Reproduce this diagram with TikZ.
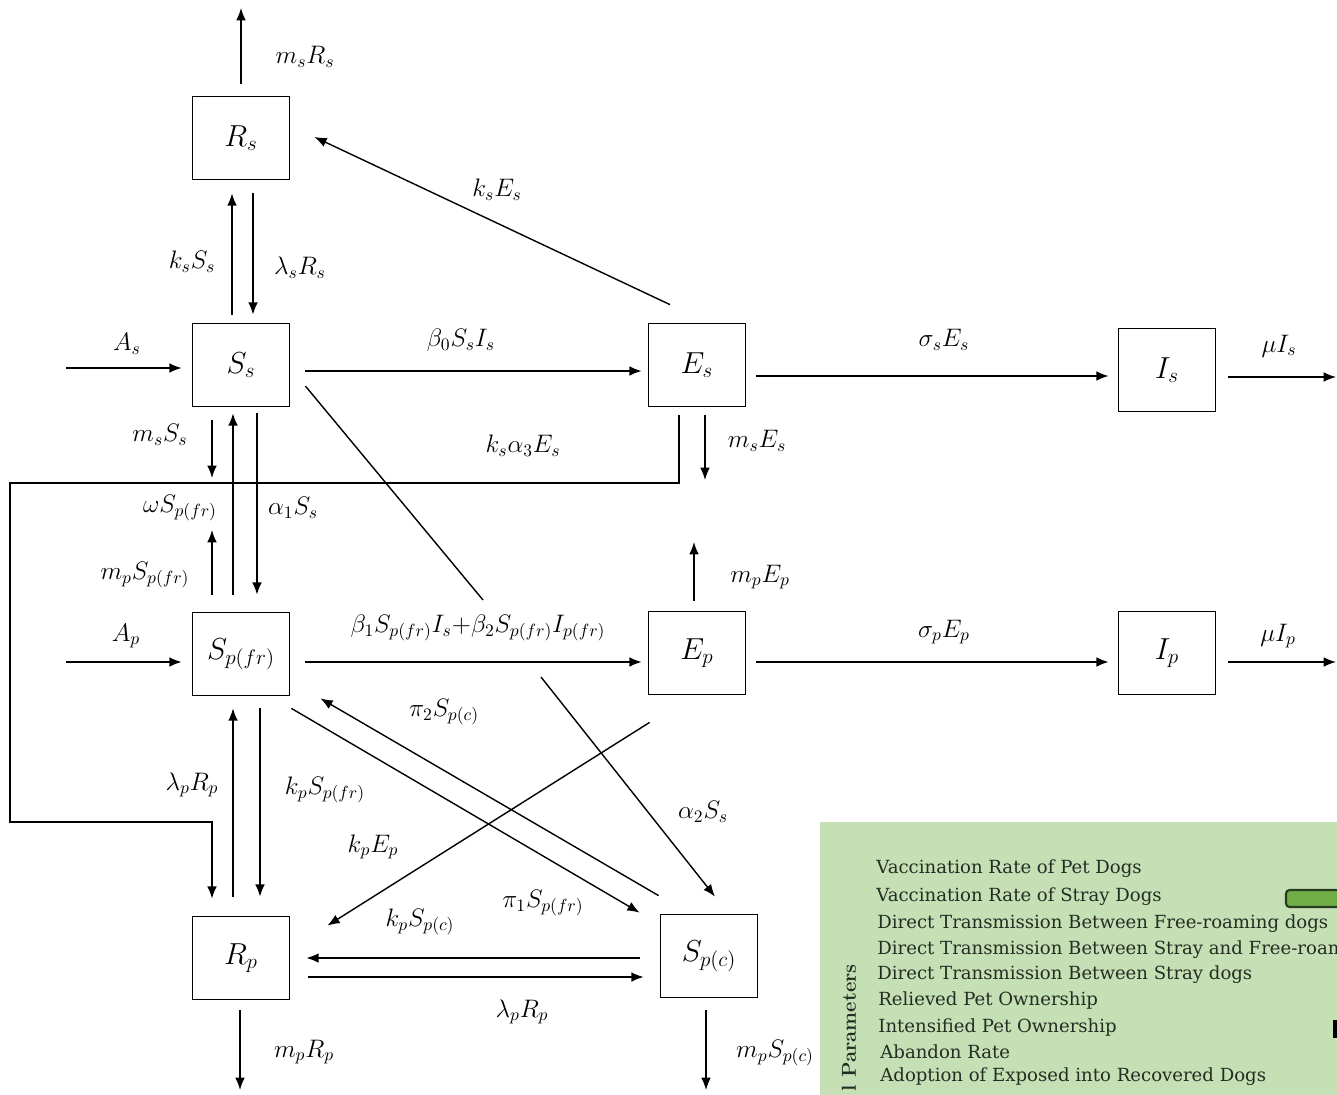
\documentclass[tikz,border=0pt]{standalone}
\usepackage{fontspec}
\newfontfamily\legfont{DejaVu Serif}
\usetikzlibrary{arrows.meta,calc}
\definecolor{legbg}{RGB}{198,224,181}
\definecolor{legtxt}{RGB}{35,45,35}
\definecolor{barfill}{RGB}{112,173,71}
\definecolor{barline}{RGB}{40,60,30}
\begin{document}
\begin{tikzpicture}[x=0.02cm,y=-0.02cm,
  box/.style={draw,line width=1pt,minimum width=1.94cm,minimum height=1.66cm,inner sep=0pt,font=\fontsize{18}{21}\selectfont},
  arr/.style={-{Latex[length=7pt,width=5.5pt]},line width=0.8pt},
  plain/.style={line width=0.8pt},
  lbl/.style={font=\fontsize{14.5}{16}\selectfont,inner sep=1pt},
  legtext/.style={font=\legfont\fontsize{10.3}{12}\selectfont,text=legtxt,anchor=west,inner sep=0pt}]
\useasboundingbox (0,0) rectangle (1337,1094);
% legend panel (drawn first, behind)
\fill[legbg] (820,822) rectangle (1340,1100);
\draw[barline,line width=1.2pt,fill=barfill,rounded corners=2pt] (1286,890) rectangle (1345,907);
\fill[black] (1333,1020) rectangle (1340,1038);
\node[legtext] (t1) at (876,869) {Vaccination Rate of Pet Dogs};
\node[legtext] (t2) at (876,897) {Vaccination Rate of Stray Dogs};
\node[legtext] (t3) at (877,924) {Direct Transmission Between Free-roaming dogs};
\node[legtext] (t4) at (877,950) {Direct Transmission Between Stray and Free-roaming dogs};
\node[legtext] (t5) at (877,975) {Direct Transmission Between Stray dogs};
\node[legtext] (t6) at (878,1000) {Relieved Pet Ownership};
\node[legtext] (t7) at (878,1027) {Intensified Pet Ownership};
\node[legtext] (t8) at (880,1052) {Abandon Rate};
\node[legtext] (t9) at (880,1077) {Adoption of Exposed into Recovered Dogs};
\node[rotate=90,anchor=east,inner sep=0pt,font=\fontsize{11.5}{13}\selectfont\bfseries,text=legtxt] (ptitle) at (849,964) {l Parameters};

% compartments
\node[box] (Rs) at (241,138) {$R_s$};
\node[box] (Ss) at (241,365) {$S_s$};
\node[box] (Es) at (697,365) {$E_s$};
\node[box] (Is) at (1167,370) {$I_s$};
\node[box] (Spfr) at (241,654) {$S_{p(fr)}$};
\node[box] (Ep) at (697,653) {$E_p$};
\node[box] (Ip) at (1167,653) {$I_p$};
\node[box] (Rp) at (241,958) {$R_p$};
\node[box] (Spc) at (709,956) {$S_{p(c)}$};

% free ends
\coordinate (RsOut) at (241,8);
\coordinate (AsIn) at (66,368);
\coordinate (IsOut) at (1336,377);
\coordinate (SsOut) at (212,478);
\coordinate (SpfrOut) at (212,530);
\coordinate (EsOut) at (705,480);
\coordinate (ApIn) at (66,662);
\coordinate (EpOut) at (694,542);
\coordinate (IpOut) at (1336,662);
\coordinate (RpOut) at (240,1090);
\coordinate (SpcOut) at (706,1090);
\coordinate (k1) at (679,483);
\coordinate (k2) at (10,483);
\coordinate (k3) at (10,822);
\coordinate (k4) at (212,822);
\coordinate (gapA) at (483,600);
\coordinate (gapB) at (541,677);

% connectors
\draw[arr] ($(Rs.north)+(0,-12)$) -- (RsOut);
\draw[arr] ($(Ss.north)+(-9,-8)$) -- ($(Rs.south)+(-9,13)$);
\draw[arr] ($(Rs.south)+(12,13)$) -- ($(Ss.north)+(12,-8)$);
\draw[arr] ($(Es.north)+(-27,-18)$) -- ($(Rs.east)+(24,-1)$);
\draw[arr] (AsIn) -- ($(Ss.west)+(-10,3)$);
\draw[arr] ($(Ss.east)+(15,6)$) -- ($(Es.west)+(-6,6)$);
\draw[arr] ($(Es.east)+(10,11)$) -- ($(Is.west)+(-9,6)$);
\draw[arr] ($(Is.east)+(12,7)$) -- (IsOut);
\draw[arr] ($(Ss.south)+(-29,13)$) -- (SsOut);
\draw[arr] ($(Spfr.north)+(-8,-17)$) -- ($(Ss.south)+(-8,6)$);
\draw[arr] ($(Ss.south)+(16,6)$) -- ($(Spfr.north)+(16,-17)$);
\draw[arr] ($(Spfr.north)+(-29,-17)$) -- (SpfrOut);
\draw[arr] ($(Es.south)+(8,8)$) -- (EsOut);
\draw[arr] ($(Es.south)+(-18,8)$) -- (k1) -- (k2) -- (k3) -- (k4) -- ($(Rp.north)+(-29,-17)$);
\draw[plain] ($(Ss.east)+(15,21)$) -- (gapA);
\draw[arr] (gapB) -- ($(Spc.north)+(6,-17)$);
\draw[arr] (ApIn) -- ($(Spfr.west)+(-10,8)$);
\draw[arr] ($(Spfr.east)+(15,8)$) -- ($(Ep.west)+(-6,9)$);
\draw[arr] ($(Ep.north)+(-3,-10)$) -- (EpOut);
\draw[arr] ($(Ep.east)+(10,9)$) -- ($(Ip.west)+(-9,9)$);
\draw[arr] ($(Ip.east)+(12,9)$) -- (IpOut);
\draw[arr] ($(Rp.north)+(-8,-19)$) -- ($(Spfr.south)+(-8,12)$);
\draw[arr] ($(Spfr.south)+(19,12)$) -- ($(Rp.north)+(19,-19)$);
\draw[arr] ($(Spfr.south east)+(1,12)$) -- ($(Spc.north west)+(-20,-1)$);
\draw[arr] ($(Spc.north west)+(-1,-18)$) -- ($(Spfr.south east)+(30,2)$);
\draw[arr] ($(Ep.south west)+(2,27)$) -- ($(Rp.north east)+(37,10)$);
\draw[arr] ($(Spc.west)+(-20,2)$) -- ($(Rp.east)+(16,0)$);
\draw[arr] ($(Rp.east)+(18,19)$) -- ($(Spc.west)+(-16,21)$);
\draw[arr] ($(Rp.south)+(-1,10)$) -- (RpOut);
\draw[arr] ($(Spc.south)+(-3,12)$) -- (SpcOut);

% rate labels
\node[lbl] (L1) at (305,57) {$m_sR_s$};
\node[lbl] (L2) at (192,262) {$k_sS_s$};
\node[lbl] (L3) at (300,268) {$\lambda_sR_s$};
\node[lbl] (L4) at (497,190) {$k_sE_s$};
\node[lbl] (L5) at (127,344) {$A_s$};
\node[lbl] (L6) at (461,340) {$\beta_0S_sI_s$};
\node[lbl] (L7) at (944,340) {$\sigma_sE_s$};
\node[lbl] (L8) at (1279,346) {$\mu I_s$};
\node[lbl] (L9) at (160,435) {$m_sS_s$};
\node[lbl] (L10) at (523,446) {$k_s\alpha_3E_s$};
\node[lbl] (L11) at (757,441) {$m_sE_s$};
\node[lbl] (L12) at (180,508) {$\omega S_{p(fr)}$};
\node[lbl] (L13) at (293,508) {$\alpha_1S_s$};
\node[lbl] (L14) at (145,575) {$m_pS_{p(fr)}$};
\node[lbl] (L15) at (760,577) {$m_pE_p$};
\node[lbl] (L16) at (126,636) {$A_p$};
\node[lbl] (L17) at (478,628) {$\beta_1S_{p(fr)}I_s{+}\beta_2S_{p(fr)}I_{p(fr)}$};
\node[lbl] (L18) at (944,632) {$\sigma_pE_p$};
\node[lbl] (L19) at (1278,636) {$\mu I_p$};
\node[lbl] (L20) at (444,712) {$\pi_2S_{p(c)}$};
\node[lbl] (L21) at (192,785) {$\lambda_pR_p$};
\node[lbl] (L22) at (325,790) {$k_pS_{p(fr)}$};
\node[lbl] (L23) at (373,847) {$k_pE_p$};
\node[lbl] (L24) at (703,812) {$\alpha_2S_s$};
\node[lbl] (L25) at (543,903) {$\pi_1S_{p(fr)}$};
\node[lbl] (L26) at (420,922) {$k_pS_{p(c)}$};
\node[lbl] (L27) at (522,1012) {$\lambda_pR_p$};
\node[lbl] (L28) at (304,1052) {$m_pR_p$};
\node[lbl] (L29) at (775,1053) {$m_pS_{p(c)}$};
\end{tikzpicture}
\end{document}
